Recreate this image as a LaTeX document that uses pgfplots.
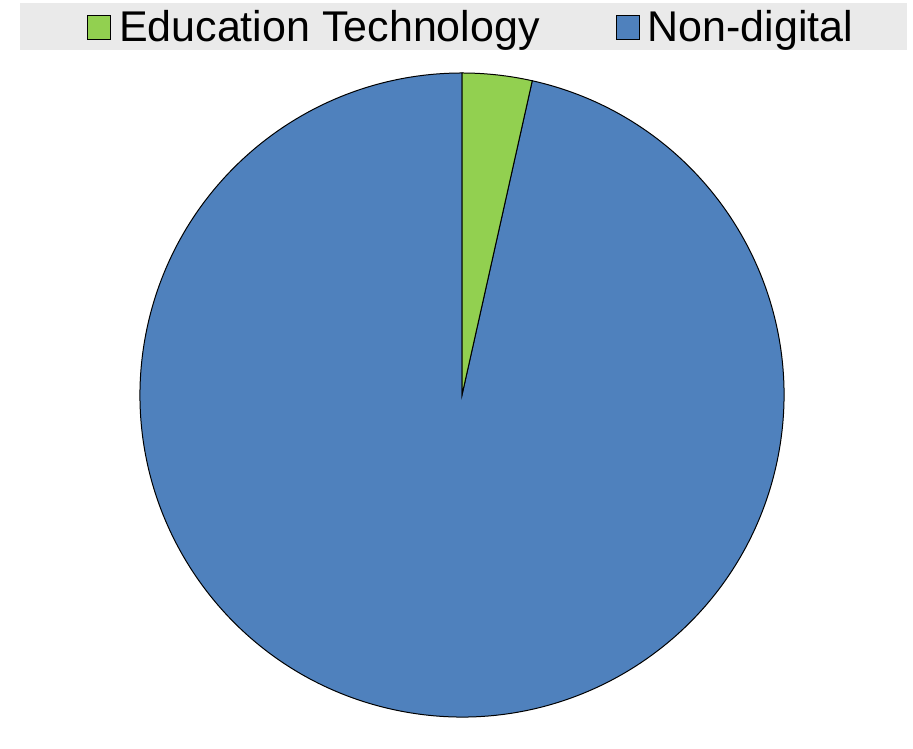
\documentclass[border=0pt]{standalone}
\usepackage{fontspec}
\setmainfont{Liberation Sans}
\usepackage{pgfplots}
\usepackage{pgfplotstable}
\pgfplotsset{compat=1.18}

\definecolor{edgreen}{HTML}{92D050}
\definecolor{ndblue}{HTML}{4F81BD}
\definecolor{legbg}{HTML}{EAEAEA}

% shares of the pie (percent)
\pgfplotstableread{
label value
{Education Technology} 3.5
Non-digital 96.5
}\piedata

\pgfplotstablegetelem{0}{value}\of\piedata \let\vEd=\pgfplotsretval
\pgfplotstablegetelem{1}{value}\of\piedata \let\vNd=\pgfplotsretval
\pgfmathsetmacro{\aEd}{90-360*\vEd/(\vEd+\vNd)}

\begin{document}
\begin{tikzpicture}
\begin{axis}[
    scale only axis,
    width=456.5pt, height=358.5pt,
    xmin=0, xmax=913, ymin=0, ymax=717,
    hide axis, clip=false,
    legend columns=2,
    legend style={
        at={(0.515,0.962)}, anchor=center,
        fill=none, draw=none,
        font=\fontsize{21.5}{25}\selectfont,
        nodes={inner sep=0pt},
        /tikz/every odd column/.append style={column sep=4pt},
        /tikz/every even column/.append style={column sep=38pt},
        inner sep=0pt,
    },
    legend image code/.code={
        \draw[#1, draw=black, line width=0.5pt] (0pt,-6pt) rectangle (11.5pt,6pt);
    },
]
\path (axis cs:0,0) (axis cs:913,717);
\fill[legbg] (axis cs:20,667) rectangle (axis cs:907,714);

\fill[ndblue, draw=black, line width=0.5pt]
    (axis cs:462,322) -- ++(\aEd:161pt) arc[start angle=\aEd, end angle=-270, radius=161pt] -- cycle;
\fill[edgreen, draw=black, line width=0.5pt]
    (axis cs:462,322) -- ++(90:161pt) arc[start angle=90, end angle=\aEd, radius=161pt] -- cycle;

\addlegendimage{fill=edgreen}
\addlegendentry{Education Technology}
\addlegendimage{fill=ndblue}
\addlegendentry{Non-digital}
\end{axis}
\end{tikzpicture}
\end{document}
